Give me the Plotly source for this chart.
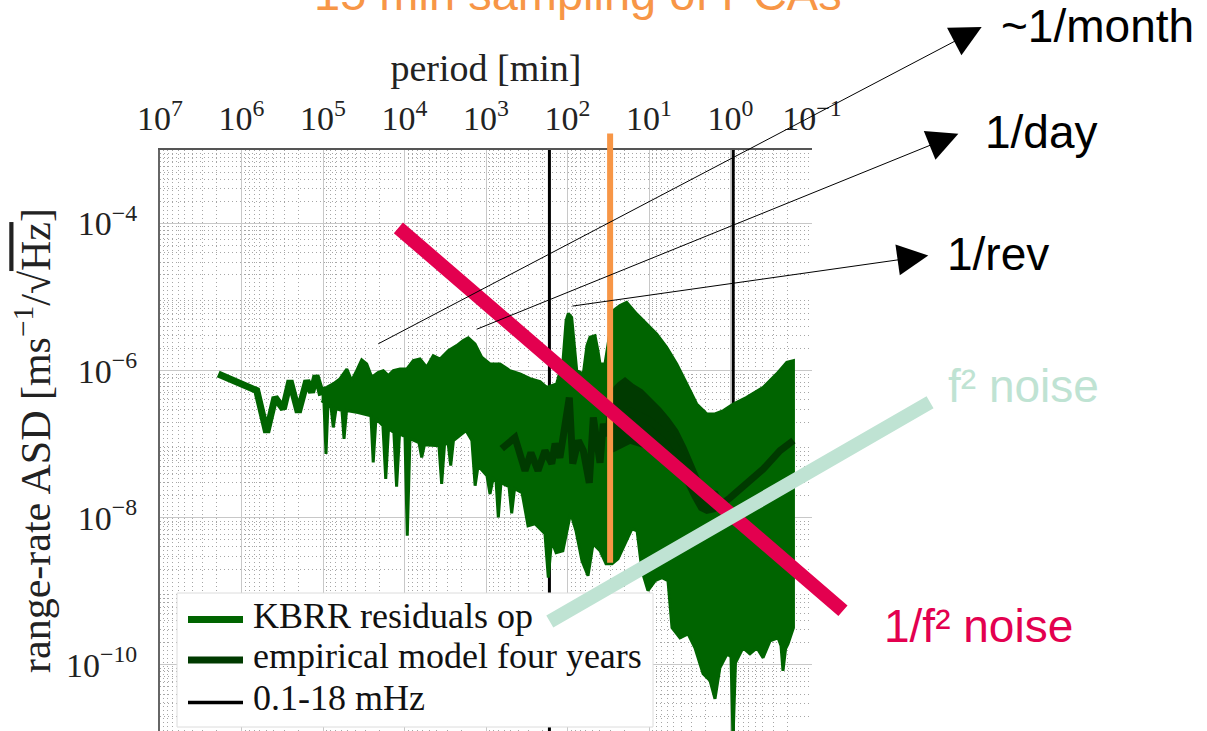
import math
import plotly.graph_objects as go

# ---------------- tick labels ----------------
period_tick_vals = [1e7, 1e6, 1e5, 1e4, 1e3, 1e2, 1e1, 1e0, 1e-1]
period_tick_text = ["10<sup>7</sup>", "10<sup>6</sup>", "10<sup>5</sup>", "10<sup>4</sup>",
                    "10<sup>3</sup>", "10<sup>2</sup>", "10<sup>1</sup>", "10<sup>0</sup>",
                    "10<sup>\u22121</sup>"]
asd_tick_vals = [1e-4, 1e-6, 1e-8, 1e-10]
asd_tick_text = ["10<sup>\u22124</sup>", "10<sup>\u22126</sup>",
                 "10<sup>\u22128</sup>", "10<sup>\u221210</sup>"]

# ---------------- KBRR residuals (period in min, ASD in m s^-1 / sqrt(Hz)) ----------------
# long-period part, drawn as a single line
kbrr_line_period = [1.93e6, 6.50e5, 4.91e5, 3.88e5, 3.07e5, 2.54e5, 2.01e5, 1.58e5,
                    1.38e5, 1.22e5, 1.09e5, 1.04e5]
kbrr_line_asd = [9.02e-7, 5.35e-7, 1.44e-7, 4.33e-7, 3.01e-7, 7.31e-7, 2.71e-7, 7.31e-7,
                 5.07e-7, 8.55e-7, 5.69e-7, 4.60e-7]

# dense part: upper and lower envelope of the residual spectrum
kbrr_upper_period = [1.04e5, 9.0e4, 7.5e4, 6.2e4, 5.1e4, 4.45e4, 3.86e4, 3.35e4, 2.91e4, 2.52e4,
                     2.09e4, 1.82e4, 1.58e4, 1.37e4, 1.135e4, 9.4e3, 7.8e3, 6.46e3, 5.35e3, 4.44e3,
                     3.66e3, 2.9e3, 2.29e3, 1.9e3, 1.65e3, 1.365e3, 1.13e3, 893, 673, 508,
                     383, 288, 217, 180, 136, 113.5, 104, 97.7, 88.9, 83.2,
                     77.1, 64.0, 57.7, 53.0, 46.0, 42.3, 39.9, 34.7, 30.1, 27.4,
                     22.7, 18.8, 14.2, 10.7, 8.05, 6.07, 4.57, 3.44, 2.60, 1.96,
                     1.55, 1.22, 0.924, 0.632, 0.396, 0.271, 0.204, 0.169]
kbrr_upper_asd = [5.64e-7, 5.93e-7, 6.59e-7, 7.71e-7, 1.05e-6, 7.31e-7, 1.0e-6, 1.40e-6, 1.23e-6, 8.11e-7,
                  9.48e-7, 1.0e-6, 8.55e-7, 1.0e-6, 1.05e-6, 1.05e-6, 1.37e-6, 1.44e-6, 1.11e-6, 1.60e-6,
                  1.44e-6, 1.87e-6, 2.19e-6, 2.56e-6, 2.79e-6, 2.31e-6, 1.52e-6, 1.23e-6, 1.23e-6, 1.0e-6,
                  9.02e-7, 7.78e-7, 7.08e-7, 5.93e-7, 6.59e-7, 1.37e-6, 4.79e-6, 5.97e-6, 5.31e-6, 2.56e-6,
                  1.0e-6, 9.02e-7, 2.19e-6, 2.84e-6, 2.99e-6, 1.87e-6, 1.23e-6, 1.23e-6, 3.50e-6, 6.55e-6,
                  7.66e-6, 8.49e-6, 5.91e-6, 4.32e-6, 3.16e-6, 2.07e-6, 1.23e-6, 6.59e-7, 3.52e-7, 2.58e-7,
                  2.58e-7, 2.86e-7, 3.52e-7, 4.33e-7, 5.93e-7, 9.02e-7, 1.30e-6, 1.37e-6]
kbrr_lower_period = [1.04e5, 9.73e4, 9.19e4, 8.69e4, 7.98e4, 7.48e4, 6.92e4, 5.85e4, 5.52e4, 5.15e4,
                     3.72e4, 2.58e4, 2.42e4, 2.24e4, 1.84e4, 1.70e4, 1.57e4, 1.35e4, 1.25e4, 1.15e4,
                     9.86e3, 9.25e3, 8.57e3, 6.64e3, 6.15e3, 5.69e3, 3.78e3, 3.50e3, 3.23e3, 2.92e3,
                     2.71e3, 2.51e3, 1.76e3, 1.49e3, 1.36e3, 1.25e3, 973, 893, 820, 753,
                     706, 655, 522, 484, 447, 361, 305, 251, 189, 172,
                     157, 138, 114, 91.4, 78.7, 66.4, 56.0, 48.6, 39.9, 33.7,
                     28.4, 24.0, 19.7, 16.2, 14.0, 12.2, 10.3, 8.43, 6.92, 5.85,
                     5.22, 4.17, 3.32, 2.73, 2.17, 1.78, 1.55, 1.35, 1.10, 0.986,
                     0.931, 0.869, 0.703, 0.577, 0.473, 0.399, 0.327, 0.261, 0.240, 0.227,
                     0.211, 0.197, 0.169]
kbrr_lower_asd = [3.91e-7, 3.67e-7, 7.36e-8, 3.45e-7, 3.24e-7, 1.69e-7, 3.04e-7, 2.86e-7, 1.18e-7, 2.86e-7,
                  2.69e-7, 2.44e-7, 5.65e-8, 2.22e-7, 1.79e-7, 3.36e-8, 1.63e-7, 1.44e-7, 2.64e-8, 1.39e-7,
                  1.26e-7, 5.69e-9, 1.19e-7, 1.05e-7, 6.61e-8, 9.84e-8, 9.55e-8, 2.88e-8, 9.84e-8, 1.05e-7,
                  5.10e-8, 1.12e-7, 1.53e-7, 1.12e-7, 2.72e-8, 5.10e-8, 3.73e-8, 2.10e-8, 3.40e-8, 3.19e-8,
                  1.01e-8, 2.99e-8, 2.64e-8, 1.15e-8, 2.48e-8, 2.19e-8, 7.78e-9, 8.28e-9, 6.05e-9, 1.53e-9,
                  4.86e-9, 3.34e-9, 3.56e-9, 1.17e-8, 6.65e-9, 2.60e-9, 1.63e-9, 4.43e-9, 3.56e-9, 2.37e-9,
                  2.37e-9, 2.77e-9, 4.43e-9, 7.08e-9, 6.65e-9, 1.90e-9, 1.02e-9, 1.39e-9, 1.53e-9, 1.39e-9,
                  3.19e-10, 2.33e-10, 2.64e-10, 1.70e-10, 7.55e-11, 6.07e-11, 3.45e-11, 9.10e-11, 1.41e-10, 1.29e-10,
                  1.0e-11, 1.06e-10, 1.70e-10, 1.41e-10, 1.70e-10, 1.25e-10, 2.12e-10, 2.33e-10, 1.82e-10, 8.30e-11,
                  1.65e-10, 1.93e-10, 3.19e-10]

# ---------------- empirical model, four years ----------------
model_line_period = [641, 441, 332, 281, 230, 189, 156, 142, 124, 112,
                     95.0, 86.3, 73.6, 64.0, 54.0, 48.2, 43.9, 39.9, 36.4, 33.7,
                     27.7, 17.1, 9.72, 5.52, 3.14, 2.06, 1.51, 1.27, 1.01, 0.632,
                     0.396, 0.247, 0.169]
model_line_asd = [8.69e-8, 1.23e-7, 4.36e-8, 7.66e-8, 4.36e-8, 8.17e-8, 5.43e-8, 1.02e-7, 6.55e-8, 1.39e-7,
                  4.30e-7, 5.43e-8, 1.12e-7, 8.17e-8, 2.99e-8, 2.30e-7, 8.96e-8, 5.60e-8, 1.90e-7, 1.31e-7,
                  2.09e-7, 2.86e-7, 2.09e-7, 1.23e-7, 4.36e-8, 1.87e-8, 1.46e-8, 1.55e-8, 1.87e-8, 2.88e-8,
                  4.60e-8, 8.17e-8, 1.12e-7]
model_band_upper_period = [32.7, 29.2, 26.1, 23.8, 19.7, 15.6, 12.3, 9.72, 7.33, 5.79, 4.57, 3.61, 2.86, 2.37, 1.87, 1.48]
model_band_upper_asd = [1.90e-7, 4.57e-7, 5.93e-7, 6.59e-7, 7.71e-7, 6.25e-7, 5.35e-7, 4.12e-7, 3.01e-7, 2.20e-7,
                        1.53e-7, 9.06e-8, 4.83e-8, 3.02e-8, 2.33e-8, 2.21e-8]
model_band_lower_period = [32.7, 27.4, 17.1, 10.7, 6.67, 4.57, 3.44, 2.86, 2.37, 1.96, 1.55, 1.28]
model_band_lower_asd = [8.17e-8, 8.17e-8, 1.06e-7, 9.06e-8, 6.61e-8, 4.36e-8, 2.88e-8, 1.89e-8, 1.31e-8, 1.18e-8,
                        1.25e-8, 1.53e-8]

# ---------------- band limits and sampling ----------------
band_limits_mhz = [0.1, 18.0]
sampling_interval_min = 15
sampling_line_asd = [1.67e-3, 2.44e-9]

# ---------------- noise slopes ----------------
inv_f2_period = [1.24e4, 0.0417]
inv_f2_asd = [9.1e-5, 5.43e-10]
f2_period = [172, 3.56e-3]
f2_asd = [3.77e-10, 3.71e-7]

# ---------------- marked lines ----------------
marker_labels = ["~1/month", "1/day", "1/rev"]
marker_from_period = [2.19e4, 1.36e3, 90.6]
marker_from_asd = [2.26e-6, 3.58e-6, 7.50e-6]
marker_to_period = [8.28e-4, 1.60e-3, 3.74e-3]
marker_to_asd = [4.69e-2, 1.66e-3, 3.67e-5]

legend_labels = ["KBRR residuals op", "empirical model four years", "0.1-18 mHz"]

# ---------------- styling ----------------
GREEN = "#006400"
DARK_GREEN = "#003a00"
ORANGE = "#f79646"
CRIMSON = "#e3004f"
MINT = "#bfe3d3"
SERIF = "Liberation Serif"
SANS = "Liberation Sans"

FIG_W, FIG_H = 1207, 731
BOX_L, BOX_R, BOX_T, BOX_B = 160, 812, 150, 731
X_RANGE = [7, -1]        # log10(period / min); long periods on the left
Y_RANGE = [-10.9, -3]    # log10(ASD)


def paper_x(px):
    return px / FIG_W


def paper_y(py):
    return 1 - py / FIG_H


dom_x = [paper_x(BOX_L), paper_x(BOX_R)]
dom_y = [paper_y(BOX_B), paper_y(BOX_T)]


def widen(rng, dom):
    # range of a full-page axis sharing the scale of an axis on domain `dom`
    span = (rng[1] - rng[0]) / (dom[1] - dom[0])
    return [rng[0] - dom[0] * span, rng[0] + (1 - dom[0]) * span]


lg = math.log10
fig = go.Figure()

# band limits 0.1 mHz and 18 mHz, converted to period in minutes
vx, vy = [], []
for f in band_limits_mhz:
    p = 1.0 / (f * 1e-3) / 60.0
    vx += [p, p, None]
    vy += [1e-2, 1e-12, None]
fig.add_trace(go.Scatter(x=vx, y=vy, mode="lines", name=legend_labels[2],
                         line=dict(color="black", width=3), hoverinfo="skip"))

# KBRR residuals
fig.add_trace(go.Scatter(x=kbrr_line_period, y=kbrr_line_asd, mode="lines", name=legend_labels[0],
                         line=dict(color=GREEN, width=7)))
fig.add_trace(go.Scatter(x=kbrr_upper_period + kbrr_lower_period[::-1],
                         y=kbrr_upper_asd + kbrr_lower_asd[::-1],
                         mode="lines", fill="toself", fillcolor=GREEN,
                         line=dict(color=GREEN, width=3), name=legend_labels[0], showlegend=False))

# empirical model
fig.add_trace(go.Scatter(x=model_band_upper_period + model_band_lower_period[::-1],
                         y=model_band_upper_asd + model_band_lower_asd[::-1],
                         mode="lines", fill="toself", fillcolor=DARK_GREEN,
                         line=dict(color=DARK_GREEN, width=3), name=legend_labels[1], showlegend=False))
fig.add_trace(go.Scatter(x=model_line_period, y=model_line_asd, mode="lines", name=legend_labels[1],
                         line=dict(color=DARK_GREEN, width=7)))

# Nyquist period of the 15 min sampling, on the full-page overlay axes
nyquist = 2 * sampling_interval_min
fig.add_trace(go.Scatter(x=[nyquist, nyquist], y=sampling_line_asd, mode="lines",
                         line=dict(color=ORANGE, width=6), xaxis="x2", yaxis="y2",
                         showlegend=False, hoverinfo="skip"))

x_minor = [d * 10.0 ** e for e in range(-1, 7) for d in range(2, 10)]
y_minor = [d * 10.0 ** e for e in range(-11, -3) for d in range(2, 10)]
MINOR = dict(ticks="", showgrid=True, gridcolor="#a6a6a6", griddash="1px,3px", gridwidth=1.2)

fig.update_layout(
    width=FIG_W, height=FIG_H, template="none",
    margin=dict(l=0, r=0, t=0, b=0),
    paper_bgcolor="white", plot_bgcolor="rgba(0,0,0,0)",
    showlegend=False,
    xaxis=dict(type="log", range=X_RANGE, domain=dom_x, side="top", anchor="y",
               tickmode="array", tickvals=period_tick_vals, ticktext=period_tick_text,
               ticks="", ticklabelstandoff=4,
               tickfont=dict(family=SERIF, size=34, color="#222"),
               showline=True, linecolor="#555", linewidth=2, mirror=False,
               showgrid=True, gridcolor="#c8c8c8", gridwidth=1.3, zeroline=False,
               minor=dict(tickmode="array", tickvals=x_minor, **MINOR),
               title=dict(text="period [min]", font=dict(family=SERIF, size=38, color="#222"),
                          standoff=2),
               automargin=False, fixedrange=True),
    yaxis=dict(type="log", range=Y_RANGE, domain=dom_y, anchor="x",
               tickmode="array", tickvals=asd_tick_vals, ticktext=asd_tick_text,
               ticks="", ticklabelstandoff=14,
               tickfont=dict(family=SERIF, size=34, color="#222"),
               showline=True, linecolor="#666", linewidth=2, mirror=False,
               showgrid=True, gridcolor="#c8c8c8", gridwidth=1.3, zeroline=False,
               minor=dict(tickmode="array", tickvals=y_minor, **MINOR),
               title=dict(text="range-rate ASD [ms<sup>\u22121</sup>/\u221a"
                               "<span style='text-decoration:overline'>Hz</span>]",
                          font=dict(family=SERIF, size=42, color="#222"), standoff=2),
               automargin=False, fixedrange=True),
    xaxis2=dict(type="log", range=widen(X_RANGE, dom_x), domain=[0, 1], anchor="y2",
                visible=False, fixedrange=True),
    yaxis2=dict(type="log", range=widen(Y_RANGE, dom_y), domain=[0, 1], anchor="x2",
                visible=False, fixedrange=True),
)

# legend box and keys
LEG_L, LEG_R, LEG_T, LEG_B = 177, 653, 593, 727
key_y = [619.5, 660, 702.5]
key_style = [(GREEN, 7), (DARK_GREEN, 7), ("black", 3.5)]
text_y = [616, 656, 698]
shapes = [dict(type="rect", xref="paper", yref="paper", layer="above",
               x0=paper_x(LEG_L), x1=paper_x(LEG_R), y0=paper_y(LEG_B), y1=paper_y(LEG_T),
               fillcolor="white", line=dict(color="#dcdcdc", width=1))]
for ky, (col, w) in zip(key_y, key_style):
    shapes.append(dict(type="line", xref="paper", yref="paper", layer="above",
                       x0=paper_x(188), x1=paper_x(243), y0=paper_y(ky), y1=paper_y(ky),
                       line=dict(color=col, width=w)))
fig.update_layout(shapes=shapes)

ann = []
# noise slope guides
for per, asd, col in [(inv_f2_period, inv_f2_asd, CRIMSON), (f2_period, f2_asd, MINT)]:
    ann.append(dict(xref="x2", yref="y2", axref="x2", ayref="y2",
                    x=lg(per[1]), y=lg(asd[1]), ax=lg(per[0]), ay=lg(asd[0]),
                    text="", showarrow=True, arrowhead=0, arrowwidth=14, arrowcolor=col))
# arrows to the spectral lines
for i in range(len(marker_labels)):
    ann.append(dict(xref="x2", yref="y2", axref="x2", ayref="y2",
                    x=lg(marker_to_period[i]), y=lg(marker_to_asd[i]),
                    ax=lg(marker_from_period[i]), ay=lg(marker_from_asd[i]),
                    text="", showarrow=True, arrowhead=2, arrowsize=6.2, arrowwidth=1,
                    arrowcolor="black", standoff=0))


def label(text, px, py, color, size=46, anchor="left"):
    return dict(xref="paper", yref="paper", x=paper_x(px), y=paper_y(py),
                xanchor=anchor, yanchor="middle", showarrow=False, text=text,
                font=dict(family=SANS, size=size, color=color))


ann.append(label("15 min sampling of PCAs", 578, -6, ORANGE, size=47, anchor="center"))
ann.append(label(marker_labels[0], 999, 26, "black"))
ann.append(label(marker_labels[1], 983, 131.5, "black"))
ann.append(label(marker_labels[2], 945, 254, "black"))
ann.append(label("f\u00b2 noise", 946, 386, MINT))
ann.append(label("1/f\u00b2 noise", 882, 626, CRIMSON))

for t, ty in zip(legend_labels, text_y):
    ann.append(dict(xref="paper", yref="paper", x=paper_x(251), y=paper_y(ty),
                    xanchor="left", yanchor="middle", showarrow=False, text=t,
                    font=dict(family=SERIF, size=36, color="#111")))

fig.update_layout(annotations=ann)

fig.write_html("out.html", config={"displayModeBar": False})
